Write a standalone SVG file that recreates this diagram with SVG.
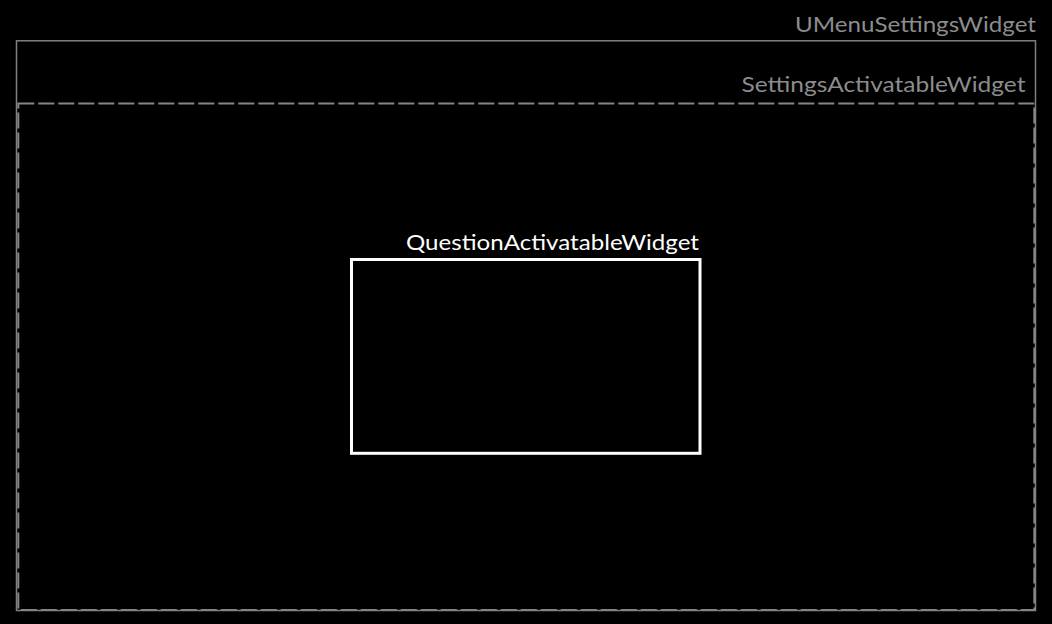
<svg xmlns="http://www.w3.org/2000/svg" width="1052" height="624" viewBox="0 0 1052 624">
<style>
.bg{fill:#000}
.outer{fill:none;stroke:#808080;stroke-width:1.5}
.dashed{fill:none;stroke:#858585;stroke-width:2;stroke-dasharray:16 4}
.inner{fill:none;stroke:#ffffff;stroke-width:3}
.lbl{font-family:"Lato","Liberation Sans",sans-serif;font-size:22px;text-anchor:end}
.gray{fill:#8c8c8c}
.white{fill:#ffffff}
</style>
<rect class="bg" x="0" y="0" width="1052" height="624"/>
<g id="UMenuSettingsWidget">
<rect class="outer" x="16.5" y="40.8" width="1019" height="569.7"/>
<text class="lbl gray" x="1036" y="32.3" textLength="241" lengthAdjust="spacingAndGlyphs">UMenuSettingsWidget</text>
</g>
<g id="SettingsActivatableWidget">
<rect class="dashed" x="18.3" y="103.5" width="1016" height="506.5"/>
<text class="lbl gray" x="1025.5" y="91.7" textLength="284" lengthAdjust="spacingAndGlyphs">SettingsActivatableWidget</text>
</g>
<g id="QuestionActivatableWidget">
<rect class="inner" x="351.5" y="259.5" width="348.5" height="193.8"/>
<text class="lbl white" x="699" y="250" textLength="293" lengthAdjust="spacingAndGlyphs">QuestionActivatableWidget</text>
</g>
<g id="connectors"></g>
</svg>
